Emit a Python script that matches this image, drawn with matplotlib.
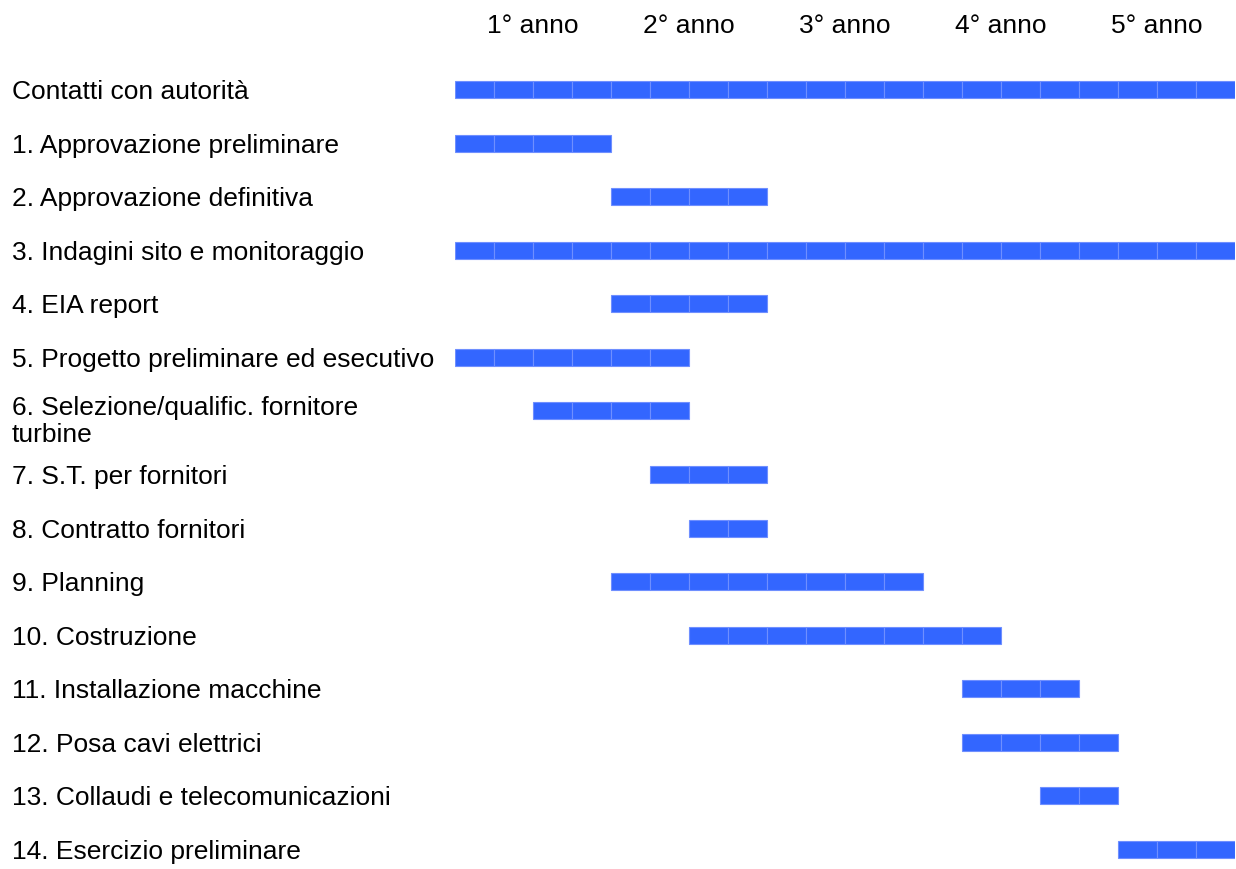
import numpy as np
import matplotlib.pyplot as plt
import matplotlib.transforms as mtrans

# Activities, start/end in quarters (5 years x 4 quarters)
TASKS = [
    'Contatti con autorità',
    '1. Approvazione preliminare',
    '2. Approvazione definitiva',
    '3. Indagini sito e monitoraggio',
    '4. EIA report',
    '5. Progetto preliminare ed esecutivo',
    '6. Selezione/qualific. fornitore\nturbine',
    '7. S.T. per fornitori',
    '8. Contratto fornitori',
    '9. Planning',
    '10. Costruzione',
    '11. Installazione macchine',
    '12. Posa cavi elettrici',
    '13. Collaudi e telecomunicazioni',
    '14. Esercizio preliminare',
]
START_Q = [0, 0, 4, 0, 4, 0, 2, 5, 6, 4, 6, 13, 13, 15, 17]
END_Q = [20, 4, 8, 20, 8, 6, 6, 8, 8, 12, 14, 16, 17, 17, 20]
YEARS = ['1° anno', '2° anno', '3° anno', '4° anno', '5° anno']

BAR_COLOR = '#3366ff'
EDGE_COLOR = '#6f8fff'

W, H = 1236, 870

if __name__ == '__main__':
    fig = plt.figure(figsize=(W / 100, H / 100), dpi=100)
    # Axes holding the bars: left edge at timeline start
    x0, x1 = 455, 1235
    ax = fig.add_axes([x0 / W, 0, (x1 - x0) / W, 1])
    ax.axis('off')

    # Row positions (two-line labels take a bit more room below)
    ypos = []
    y = 0.0
    for t in TASKS:
        ypos.append(y)
        y += 1.2 if '\n' in t else 1.0
    ypos = np.array(ypos)

    # Row 0 centre at 90.5 px, 53.5 px per row
    y0_px, row_px = 90.5, 53.5
    ax.set_ylim((H - y0_px) / row_px, -y0_px / row_px)
    ax.set_xlim(0, 20)

    # Labels: x in figure coords, y in data coords
    lab_tr = mtrans.blended_transform_factory(fig.transFigure, ax.transData)
    font = ['Liberation Sans', 'DejaVu Sans']

    bar_h = 17 / row_px
    for i, t in enumerate(TASKS):
        # one cell per quarter
        for q in range(START_Q[i], END_Q[i]):
            ax.barh(ypos[i], 1, left=q, height=bar_h, color=BAR_COLOR,
                    edgecolor=EDGE_COLOR, linewidth=0.8)
        off = 0.18 if '\n' in t else 0.03
        ax.text(12 / W, ypos[i] + off, t, transform=lab_tr, fontsize=19,
                family=font, va='center', ha='left', linespacing=1.15,
                clip_on=False)

    # Year headers centred over each 4-quarter block
    for k, yr in enumerate(YEARS):
        ax.text(4 * k + 2, (26 - y0_px) / row_px, yr, fontsize=19,
                ha='center', va='center', family=font, clip_on=False)

    fig.savefig('out.png', dpi=100)
